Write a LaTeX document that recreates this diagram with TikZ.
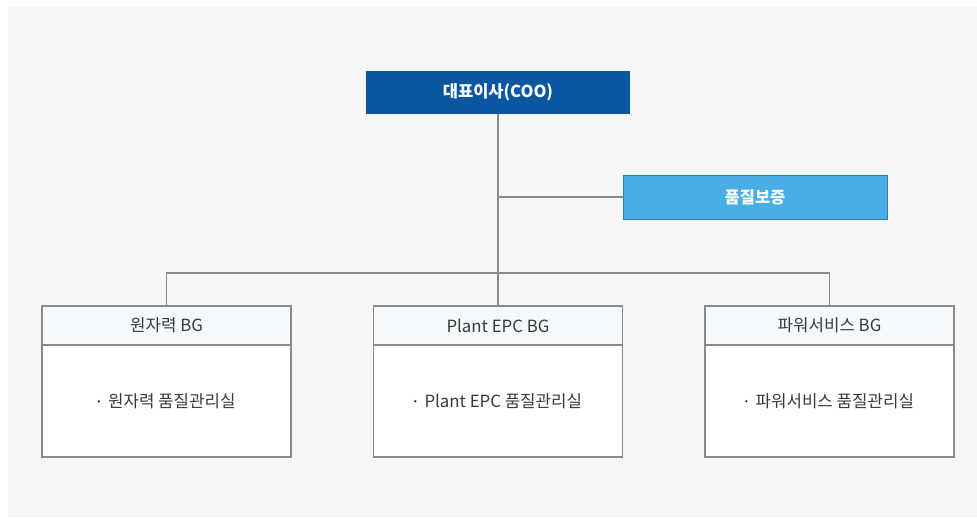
\documentclass[tikz,border=0pt]{standalone}
\usepackage{fontspec}
\setmainfont{Noto Sans CJK KR}
\usetikzlibrary{positioning}
\definecolor{cooblue}{HTML}{0A56A0}
\definecolor{qablue}{HTML}{48AEE3}
\definecolor{qaline}{HTML}{2A7FC0}
\definecolor{panelgray}{HTML}{F6F6F6}
\definecolor{linegray}{HTML}{8A8A8A}
\definecolor{headfill}{HTML}{F6F9FC}
\definecolor{textgray}{HTML}{3A3A3A}
\tikzset{orgline/.style = {draw=linegray, line width=1.1pt}}
\newcommand{\orgdot}{\raisebox{0.28em}{\tikz\fill[textgray] (0,0) circle (1.3pt);}\hspace{8pt}}

\begin{document}
\begin{tikzpicture}[
    x=1pt, y=-1pt,
    topbox/.style={rectangle, inner sep=0pt, outer sep=0pt,
        minimum width=264pt, minimum height=43pt,
        font={\fontsize{16.5}{19}\selectfont\bfseries}, text=white},
    bghead/.style={rectangle, draw=linegray, line width=1.1pt, fill=headfill,
        inner sep=0pt, outer sep=0pt, minimum width=249pt, minimum height=39pt,
        font={\fontsize{16.8}{19}\selectfont}, text=textgray},
    bgbody/.style={rectangle, draw=linegray, line width=1.1pt, fill=white,
        inner sep=0pt, outer sep=0pt, minimum width=249pt, minimum height=112pt,
        font={\fontsize{16.8}{19}\selectfont}, text=textgray},
    ]

    % Panel
    \fill[white] (0,0) rectangle (977,517);
    \fill[panelgray] (8,6) rectangle (977,517);

    % Top level
    \node[topbox, fill=cooblue] (coo) at (498,92.5) {대표이사(COO)};
    \node[topbox, fill=qablue, draw=qaline, line width=0.8pt, minimum height=44pt] (qa) at (755,197) {품질보증};

    % Business groups
    \node[bghead] (nuchead) at (166.5,325.5) {원자력 BG};
    \node[bgbody, below=0pt of nuchead] (nucbody) {\orgdot 원자력 품질관리실};

    \node[bghead] (epchead) at (498,325.5) {Plant EPC BG};
    \node[bgbody, below=0pt of epchead] (epcbody) {\orgdot Plant EPC 품질관리실};

    \node[bghead] (pwrhead) at (829.5,325.5) {파워서비스 BG};
    \node[bgbody, below=0pt of pwrhead] (pwrbody) {\orgdot 파워서비스 품질관리실};

    % Connectors
    \coordinate (bus) at (498,273);
    \draw[orgline] (coo.south) -- (epchead.north);
    \draw[orgline] (coo.south |- qa.west) -- (qa.west);
    \draw[orgline] (nuchead.north) |- (bus) -| (pwrhead.north);

\end{tikzpicture}
\end{document}
